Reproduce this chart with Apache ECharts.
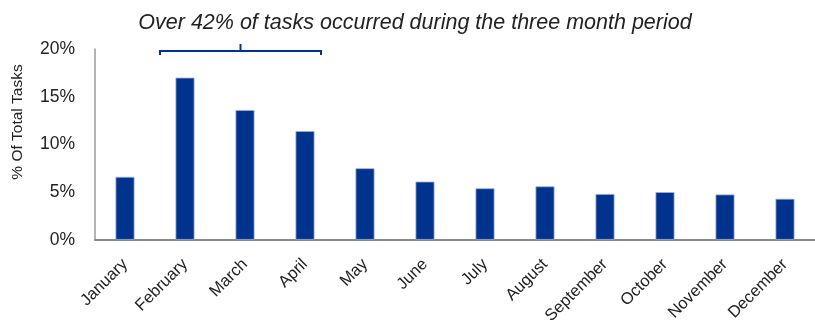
<!DOCTYPE html>
<html>
<head>
<meta charset="utf-8">
<style>
  html, body { margin: 0; padding: 0; background: #fff; }
  #chart { width: 815px; height: 327px; }
</style>
<script src="https://cdn.jsdelivr.net/npm/echarts@6/dist/echarts.min.js"></script>
</head>
<body>
<div id="chart"></div>
<script>
// Monthly share of tasks
const months = ['January', 'February', 'March', 'April', 'May', 'June', 'July',
  'August', 'September', 'October', 'November', 'December'];
const shareOfTasks = [6.6, 17.0, 13.6, 11.4, 7.5, 6.1, 5.4, 5.6, 4.8, 5.0, 4.75, 4.3];
const yTicks = [0, 5, 10, 15, 20];
const titleText = 'Over 42% of tasks occurred during the three month period';
const yAxisTitle = '% Of Total Tasks';
const bracketMonths = ['February', 'April'];

const blue = '#00338D';
const font = 'Liberation Sans, Arial, sans-serif';

const chart = echarts.init(document.getElementById('chart'));
chart.setOption({
  animation: false,
  title: {
    text: titleText,
    left: 410,
    textAlign: 'center',
    top: 7,
    textStyle: { fontFamily: font, fontStyle: 'italic', fontWeight: 'normal', fontSize: 21.5, color: '#222' }
  },
  grid: { left: 95, right: 0, top: 49, bottom: 87 },
  xAxis: {
    type: 'category',
    data: months,
    axisLine: { lineStyle: { color: '#8a8a8a', width: 2 } },
    axisTick: { show: false },
    axisLabel: { rotate: 45, interval: 0, margin: 22, fontFamily: font, fontSize: 16.5, color: '#222' }
  },
  yAxis: {
    type: 'value',
    min: yTicks[0],
    max: yTicks[yTicks.length - 1],
    interval: 5,
    splitLine: { show: false },
    axisLine: { show: true, lineStyle: { color: '#9a9a9a', width: 1.5 } },
    axisTick: { show: false },
    axisLabel: { formatter: '{value}%', margin: 20, fontFamily: font, fontSize: 17.5, color: '#222' }
  },
  series: [{
    type: 'bar',
    data: shareOfTasks,
    barWidth: 19,
    itemStyle: { color: blue, borderColor: '#9fb0d4', borderWidth: 0.8 }
  }]
});

// Axis title and the bracket over the February–April bars
function drawOverlay() {
  const a = chart.convertToPixel({ xAxisIndex: 0 }, bracketMonths[0]);
  const b = chart.convertToPixel({ xAxisIndex: 0 }, bracketMonths[1]);
  const top = chart.convertToPixel({ yAxisIndex: 0 }, yTicks[yTicks.length - 1]);
  const x1 = a - 25, x2 = b + 16, y = top + 2;
  const mid = (x1 + x2) / 2;
  chart.setOption({
    graphic: [{
      type: 'text',
      x: 18, y: 122,
      rotation: Math.PI / 2,
      style: {
        text: yAxisTitle, fontFamily: font, fontSize: 15.5, fill: '#222',
        textAlign: 'center', textVerticalAlign: 'middle'
      }
    }, {
      type: 'polyline',
      shape: { points: [[x1, y + 4], [x1, y], [x2, y], [x2, y + 4]] },
      style: { stroke: blue, lineWidth: 2, fill: null }
    }, {
      type: 'line',
      shape: { x1: mid, y1: y - 7, x2: mid, y2: y },
      style: { stroke: blue, lineWidth: 2 }
    }]
  });
}
drawOverlay();
</script>
</body>
</html>
